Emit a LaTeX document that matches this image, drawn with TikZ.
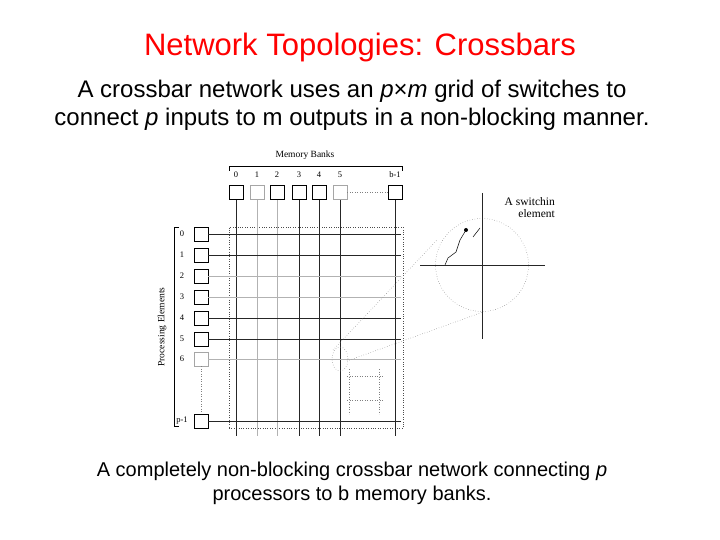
\documentclass[tikz,border=0pt]{standalone}
\usepackage{fontspec}
\setmainfont{Liberation Sans}
\newfontfamily\serifa{Liberation Serif}
\usetikzlibrary{shapes.geometric}
\begin{document}
\begin{tikzpicture}[x=1pt,y=-1pt,
  sw/.style={draw,minimum size=14pt,inner sep=0pt,line width=0.6pt},
  swl/.style={sw,draw=gray!70},
  dk/.style={line width=0.7pt,black!85},
  lt/.style={line width=0.5pt,gray!60},
  lbl/.style={font=\serifa\fontsize{8.5}{9}\selectfont,inner sep=0pt},
  dots/.style={dotted,gray,line width=0.5pt}]
\useasboundingbox (0,0) rectangle (720,540);
\node[text=red,font=\fontsize{31}{36}\selectfont] (title) at (360,47) {Network Topologies: Crossbars};
\node[align=center,font=\fontsize{24}{28}\selectfont] (sub) at (352,105) {A crossbar network uses an \textit{p}×\textit{m} grid of switches to\\connect \textit{p} inputs to m outputs in a non-blocking manner.};
\node[align=center,font=\fontsize{20}{24}\selectfont] (cap) at (352,483) {A completely non-blocking crossbar network connecting \textit{p}\\processors to b memory banks.};
% dashed grid frame
\node[draw,dotted,black!70,line width=0.4pt,minimum width=174pt,minimum height=201pt,inner sep=0pt] (frame) at (316,327.5) {};
% memory banks
\node[lbl,font=\serifa\fontsize{9.5}{10}\selectfont] (mbl) at (305,155) {Memory Banks};
\draw[line width=0.5pt] (229,171)--(229,166)--(402,166)--(402,171);
\foreach \n/\x/\s/\l in {m0/236/sw/0,m1/257/swl/1,m2/277/sw/2,m3/299/sw/3,m4/319/sw/4,m5/340/swl/5,mb/395/sw/b-1}{
  \node[\s] (\n) at (\x,192.5) {};
  \node[lbl] at (\x,175) {\l};
}
\foreach \n/\st in {m0/dk,m1/lt,m2/lt,m3/dk,m4/dk,m5/dk,mb/dk}{
  \coordinate (\n e) at ([yshift=-236pt]\n.south);
  \draw[\st] (\n.south) -- (\n e);
}
\draw[dots] (m5.east) -- (mb.west);
% processing elements
\node[lbl,rotate=90,font=\serifa\fontsize{9.5}{10}\selectfont] (pe) at (162,327) {Processing Elements};
\draw[line width=0.5pt] (179,227)--(174,227)--(174,426)--(179,426);
\foreach \n/\y/\s/\l in {p0/234/sw/0,p1/255/sw/1,p2/276/sw/2,p3/297/sw/3,p4/318/sw/4,p5/339/sw/5,p6/359/swl/6,pp/421/sw/p-1}{
  \node[\s] (\n) at (201,\y) {};
  \node[lbl] at (182,\y) {\l};
}
\foreach \n/\st in {p0/dk,p1/dk,p2/lt,p3/lt,p4/dk,p5/dk,p6/lt,pp/dk}{
  \coordinate (\n e) at ([xshift=193pt]\n.east);
  \draw[\st] (\n.east) -- (\n e);
}
\draw[dots] (p6.south) -- (pp.north);
% small dotted square
\draw[dots] (347,376)--(383,376) (347,400)--(383,400) (349,369)--(349,414) (379,369)--(379,414);
% zoom
\node[draw,dots,ellipse,minimum width=16pt,minimum height=24pt,inner sep=0pt] (sc) at (340,359) {};
\node[draw,dots,circle,minimum size=93pt,inner sep=0pt] (bc) at (482,265) {};
\draw[dots] (333,350) -- (437,240);
\draw[dots] (347,361) -- (483,312);
\draw[dk] (420,265) -- (545,265);
\draw[dk] (482,193) -- (482,339);
\fill (466,230) circle (2pt);
\draw[line width=0.5pt] (466,230) -- (460,240) -- (456,252) -- (448,258) -- (445,265);
\draw[line width=0.5pt] (473,237) -- (480,228);
\node[align=right,font=\serifa\fontsize{11.5}{12}\selectfont,anchor=east,inner sep=0pt] (se) at (555,208) {A switchin\\element};
\end{tikzpicture}
\end{document}
